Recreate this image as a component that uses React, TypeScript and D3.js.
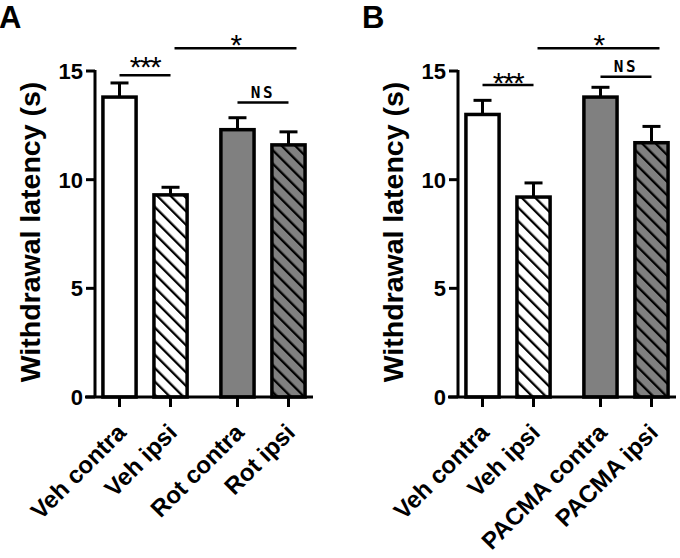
import * as d3 from 'd3'

const yTicks = [0, 5, 10, 15]
const groups = ['Veh', 'Drug']
const sides = ['contra', 'ipsi']

const labelsA = ['Veh contra', 'Veh ipsi', 'Rot contra', 'Rot ipsi']
const meansA = [13.8, 9.3, 12.3, 11.6]
const semsA = [0.65, 0.35, 0.55, 0.6]

const labelsB = ['Veh contra', 'Veh ipsi', 'PACMA contra', 'PACMA ipsi']
const meansB = [13.0, 9.2, 13.8, 11.7]
const semsB = [0.65, 0.65, 0.45, 0.75]

// brackets: bar indices, line height and label bottom in seconds
const sigA = [
  { from: 0, to: 1, line: 14.8, label: 15.32, text: '***' },
  { from: 1, to: 3, line: 16.05, label: 16.34, text: '*' },
  { from: 2, to: 3, line: 13.55, label: 13.78, text: 'NS' },
]
const sigB = [
  { from: 0, to: 1, line: 14.36, label: 14.6, text: '***' },
  { from: 1, to: 3, line: 16.05, label: 16.34, text: '*' },
  { from: 2, to: 3, line: 14.73, label: 14.96, text: 'NS' },
]

const fills = ['#ffffff', 'url(#hatchWhite)', '#808080', 'url(#hatchGray)']
const font = 'Liberation Sans, Arial, sans-serif'

const W = 680
const H = 558
const plotW = 218
const top = 71
const bottom = 397

function Panel({ letter, left, labels, means, sems, sig }) {
  const y = d3.scaleLinear().domain([0, 15]).range([bottom, top])
  const xGroup = d3.scaleBand().domain(groups).range([left, left + plotW]).paddingInner(0.2).paddingOuter(0.024)
  const xSide = d3.scaleBand().domain(sides).range([0, xGroup.bandwidth()]).paddingInner(0.35).paddingOuter(0.1)
  const cx = (i) => xGroup(groups[Math.floor(i / 2)]) + xSide(sides[i % 2]) + xSide.bandwidth() / 2
  const bw = xSide.bandwidth()

  return (
    <g>
      <text x={left - 96} y={28} fontFamily={font} fontWeight="bold" fontSize={31}>{letter}</text>
      <text transform={`translate(${left - 55},${(top + bottom) / 2 - 2}) rotate(-90)`} textAnchor="middle"
        fontFamily={font} fontWeight="bold" fontSize={28.5}>Withdrawal latency (s)</text>

      {means.map((m, i) => (
        <g key={i}>
          <line x1={cx(i)} x2={cx(i)} y1={y(m)} y2={y(m + sems[i])} stroke="#000" strokeWidth={3} />
          <line x1={cx(i) - 9} x2={cx(i) + 9} y1={y(m + sems[i])} y2={y(m + sems[i])} stroke="#000" strokeWidth={3} />
          <rect x={cx(i) - bw / 2} y={y(m)} width={bw} height={y(0) - y(m)}
            fill={fills[i]} stroke="#000" strokeWidth={3.5} />
        </g>
      ))}

      {/* y axis */}
      <line x1={left} x2={left} y1={top - 1} y2={bottom} stroke="#000" strokeWidth={3} />
      {yTicks.map((t) => (
        <g key={t}>
          <line x1={left - 9} x2={left} y1={y(t)} y2={y(t)} stroke="#000" strokeWidth={3} />
          <text x={left - 12} y={y(t)} dy="0.36em" textAnchor="end" fontFamily={font} fontWeight="bold" fontSize={22}>{t}</text>
        </g>
      ))}

      {/* x axis */}
      <line x1={left - 10} x2={left + plotW} y1={bottom} y2={bottom} stroke="#000" strokeWidth={3} />
      {labels.map((l, i) => (
        <g key={l}>
          <line x1={cx(i)} x2={cx(i)} y1={bottom} y2={bottom + 10} stroke="#000" strokeWidth={3} />
          <text transform={`translate(${cx(i) + 8},${bottom + 37}) rotate(-45)`} textAnchor="end"
            fontFamily={font} fontWeight="bold" fontSize={24}>{l}</text>
        </g>
      ))}

      {sig.map((s, k) => {
        const span = s.to - s.from > 1
        const x1 = cx(s.from) + (span ? 4 : 0)
        const x2 = cx(s.to) + (span ? 8 : 0)
        const isNS = s.text === 'NS'
        return (
          <g key={k}>
            <line x1={x1} x2={x2} y1={y(s.line)} y2={y(s.line)} stroke="#000" strokeWidth={2.5} />
            <text x={(x1 + x2) / 2} y={y(s.label) + (isNS ? 0 : 13)} textAnchor="middle"
              fontFamily={isNS ? 'DejaVu Sans Mono, monospace' : font} fontWeight={isNS ? 'bold' : 'normal'}
              fontSize={isNS ? 16 : 30} letterSpacing={isNS ? 2.5 : -1.5}>{s.text}</text>
          </g>
        )
      })}
    </g>
  )
}

export default function App() {
  return (
    <svg width={W} height={H} style={{ position: 'absolute', left: 0, top: 0, background: '#fff' }}>
      <defs>
        <pattern id="hatchWhite" patternUnits="userSpaceOnUse" width={9.5} height={9.5} patternTransform="rotate(-45)">
          <rect width={9.5} height={9.5} fill="#fff" />
          <line x1={0} x2={0} y1={0} y2={9.5} stroke="#000" strokeWidth={4.6} />
        </pattern>
        <pattern id="hatchGray" patternUnits="userSpaceOnUse" width={9.5} height={9.5} patternTransform="rotate(-45)">
          <rect width={9.5} height={9.5} fill="#808080" />
          <line x1={0} x2={0} y1={0} y2={9.5} stroke="#000" strokeWidth={4.6} />
        </pattern>
      </defs>
      <Panel letter="A" left={95} labels={labelsA} means={meansA} sems={semsA} sig={sigA} />
      <Panel letter="B" left={458} labels={labelsB} means={meansB} sems={semsB} sig={sigB} />
    </svg>
  )
}
